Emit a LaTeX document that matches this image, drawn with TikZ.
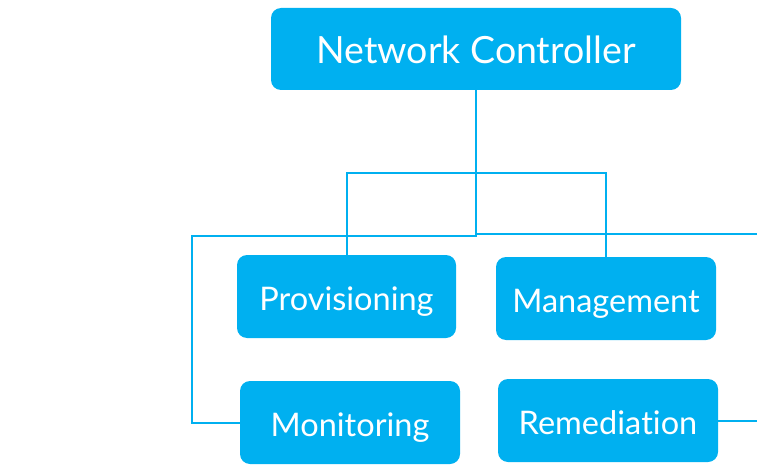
\documentclass[tikz,border=0pt]{standalone}
\usepackage{fontspec}
\setmainfont{Lato}[Ligatures={NoCommon,NoRequired,NoContextual}]
\definecolor{ctlblue}{RGB}{0,176,240}
\tikzset{
  ctlbox/.style={fill=ctlblue, text=white, rounded corners=10pt, inner sep=0pt,
    minimum width=220pt, minimum height=83pt, text height=27pt, text depth=0pt,
    font=\fontsize{32.5}{36}\selectfont},
  ctlline/.style={draw=ctlblue, line width=2pt}
}

\begin{document}
\begin{tikzpicture}[x=1pt, y=-1pt]
    \useasboundingbox (0,0) rectangle (757,465); % keeps the page size

    \node[ctlbox, minimum width=410pt, minimum height=82pt, text height=30pt,
      font=\fontsize{37.5}{42}\selectfont] (ctrl) at (476,49) {Network Controller};
    \node[ctlbox, minimum width=219pt] (prov) at (346.5,296.5) {Provisioning};
    \node[ctlbox] (mgmt) at (606,298.5) {Management};
    \node[ctlbox] (mon) at (350,422.5) {Monitoring};
    \node[ctlbox] (rem) at (608,420.5) {Reme\-dia\kern0pt tion};

    \coordinate (hub) at (476,236);
    \coordinate (lft) at (192,236);
    \coordinate (rgt) at (757,234);
    \coordinate (brk) at (476,173);

    \draw[ctlline] (ctrl.south) -- (hub) -- (lft) |- (mon.west);
    \draw[ctlline] (hub |- rgt) -- (rgt);
    \draw[ctlline] (prov.north) |- (brk) -| (mgmt.north);
    \draw[ctlline] (rem.east) -- (rem.east -| rgt);
\end{tikzpicture}
\end{document}
